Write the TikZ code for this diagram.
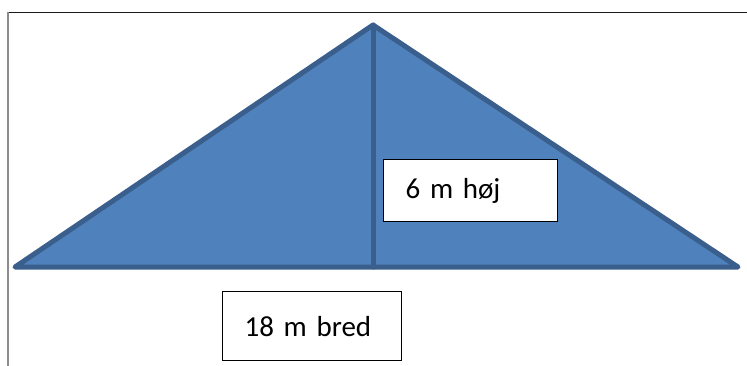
\documentclass[tikz,border=0pt]{standalone}
\usepackage{fontspec}
\setmainfont{Carlito}
\usepackage{tikz}

\definecolor{roofblue}{HTML}{4F81BD}
\definecolor{roofedge}{HTML}{3A5F8C}

\begin{document}
\begin{tikzpicture}[x=1pt,y=-1pt,
    roof/.style={line width=5pt,draw=roofedge,line join=round,line cap=round},
    infobox/.style={draw=black,line width=1.3pt,fill=white,anchor=north west,
        inner xsep=22pt,align=left,font=\fontsize{29}{35}\selectfont}]

    \useasboundingbox (0,0) rectangle (747,366);

    % Frame
    \draw[line width=1.2pt,black!90] (8,12.5) -- (747,12.5);
    \draw[line width=1.5pt,black!45] (8,12.5) -- (8,366);

    % Triangle
    \coordinate (apex) at (373,25);
    \coordinate (left) at (15,267);
    \coordinate (right) at (738,267);
    \coordinate (foot) at (373,267);
    \draw[roof,fill=roofblue] (left) -- (apex) -- (right) -- cycle;
    \draw[roof] (apex) -- (foot);

    % Labels
    \node[infobox,text width=130pt,minimum height=62pt] (height) at (383,159) {6 m høj};
    \node[infobox,text width=135pt,minimum height=69pt] (width) at (222,291) {18 m bred};

\end{tikzpicture}
\end{document}
